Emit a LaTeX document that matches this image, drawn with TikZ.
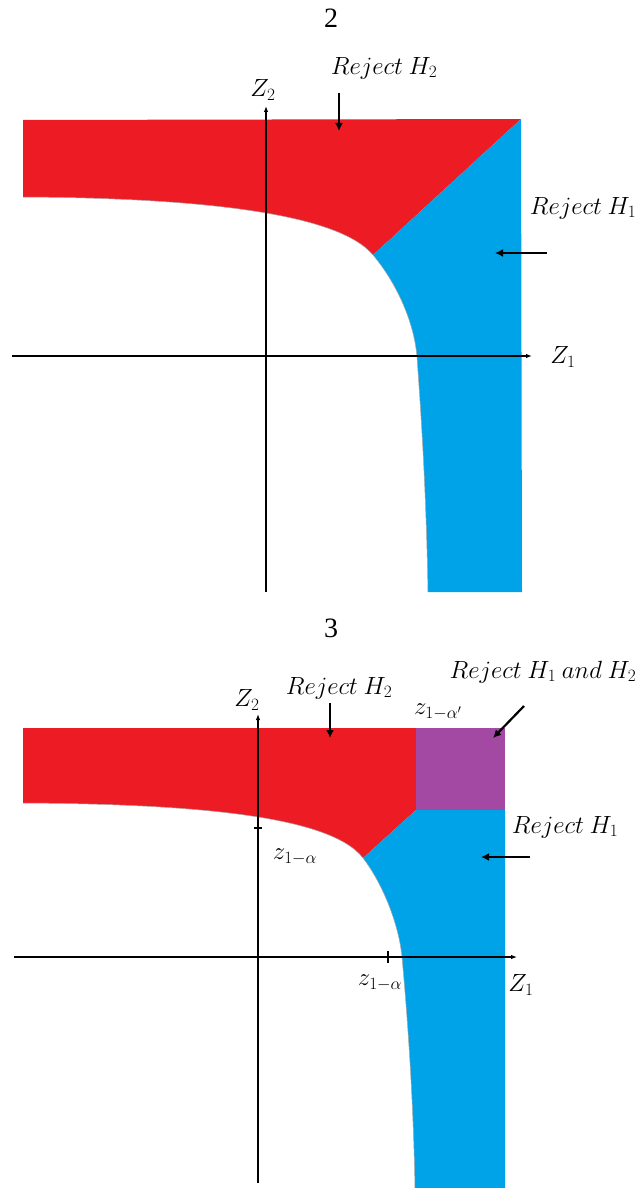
\documentclass[tikz,border=0pt]{standalone}
\usepackage{amsmath,amssymb}
\usepackage{fontspec}
\setmainfont{Liberation Serif}
\usepackage{tikz}
\usetikzlibrary{arrows.meta,positioning,calc}

\definecolor{rejred}{HTML}{ED1C24}
\definecolor{rejblue}{HTML}{00A2E8}
\definecolor{rejpurple}{HTML}{A349A4}

\tikzset{
  axis/.style={line width=1.1pt, -{Latex[length=6pt,width=4.5pt]}},
  pointer/.style={line width=2.2pt, -{Latex[length=8pt,width=8pt]}},
  lbl/.style={font=\fontsize{23}{26}\selectfont, inner sep=0pt},
  small/.style={font=\fontsize{25}{28}\selectfont, inner sep=0pt},
  title/.style={font=\fontsize{28}{32}\selectfont, inner sep=0pt},
  edge/.style={draw=gray!70, line width=0.5pt}
}

\begin{document}
\begin{tikzpicture}[x=1pt, y=-1pt]
  \useasboundingbox (0,0) rectangle (644,1188);

  % Panel 2: regions
  \fill[rejred] (23,120) -- (521,119) -- (373,255)
    .. controls (338,213) and (200,198) .. (23,197) -- cycle;
  \fill[rejblue] (521,119) -- (522,592) -- (428,592)
    .. controls (426,480) and (420,400) .. (417,357)
    .. controls (414,320) and (395,281) .. (373,255) -- cycle;
  \draw[edge] (23,197) .. controls (200,198) and (338,213) .. (373,255)
    .. controls (395,281) and (414,320) .. (417,357)
    .. controls (420,400) and (426,480) .. (428,592);

  % Panel 2: axes
  \coordinate (oxA) at (12,356);
  \coordinate (exA) at (532,356);
  \coordinate (oyA) at (266,592);
  \coordinate (eyA) at (266,106);
  \draw[axis] (oxA) -- (exA);
  \draw[axis] (oyA) -- (eyA);

  % Panel 2: labels
  \node[title] (numTwo) at (331,18) {2};
  \node[lbl] (ztwoA) at (263,90) {$Z_2$};
  \node[lbl] (zoneA) at (563,357) {$Z_1$};
  \node[lbl] (rejHtwoA) at (384,68) {$Reject\ H_2$};
  \node[lbl] (rejHoneA) at (583,208) {$Reject\ H_1$};
  \coordinate (pHtwoA) at (339,93);
  \coordinate (tHtwoA) at (339,131);
  \coordinate (pHoneA) at (547,253);
  \coordinate (tHoneA) at (495,253);
  \draw[pointer] (pHtwoA) -- (tHtwoA);
  \draw[pointer] (pHoneA) -- (tHoneA);

  % Panel 3: regions
  \fill[rejred] (23,728) -- (416,728) -- (416,810) -- (363,858)
    .. controls (330,815) and (190,804) .. (23,803) -- cycle;
  \fill[rejpurple] (416,728) rectangle (505,810);
  \fill[rejblue] (416,810) -- (505,810) -- (505,1188) -- (415,1188)
    .. controls (413,1080) and (405,990) .. (402,957)
    .. controls (399,925) and (383,884) .. (363,858) -- cycle;
  \draw[edge] (23,803) .. controls (190,804) and (330,815) .. (363,858)
    .. controls (383,884) and (399,925) .. (402,957)
    .. controls (405,990) and (413,1080) .. (415,1188);

  % Panel 3: axes and ticks
  \coordinate (oxB) at (14,957);
  \coordinate (exB) at (517,957);
  \coordinate (oyB) at (258,1183);
  \coordinate (eyB) at (258,714);
  \draw[axis] (oxB) -- (exB);
  \draw[axis] (oyB) -- (eyB);
  \draw[line width=1.1pt] (254,828) -- (262,828);
  \draw[line width=1.1pt] (388,951) -- (388,963);

  % Panel 3: labels
  \node[title] (numThree) at (331,628) {3};
  \node[lbl] (ztwoB) at (247,700) {$Z_2$};
  \node[lbl] (zoneB) at (521,985) {$Z_1$};
  \node[small] (critA) at (295,857) {$z_{1-\alpha}$};
  \node[small] (critB) at (380,983) {$z_{1-\alpha}$};
  \node[small] (critC) at (438,712) {$z_{1-\alpha'}$};
  \node[lbl] (rejHtwoB) at (339,688) {$Reject\ H_2$};
  \node[lbl] (rejBoth) at (543,672) {$Reject\ H_1\ and\ H_2$};
  \node[lbl] (rejHoneB) at (565,827) {$Reject\ H_1$};
  \coordinate (pHtwoB) at (330,703);
  \coordinate (tHtwoB) at (330,738);
  \coordinate (pBoth) at (524,706);
  \coordinate (tBoth) at (493,738);
  \coordinate (pHoneB) at (530,857);
  \coordinate (tHoneB) at (481,857);
  \draw[pointer] (pHtwoB) -- (tHtwoB);
  \draw[pointer] (pBoth) -- (tBoth);
  \draw[pointer] (pHoneB) -- (tHoneB);
\end{tikzpicture}
\end{document}
